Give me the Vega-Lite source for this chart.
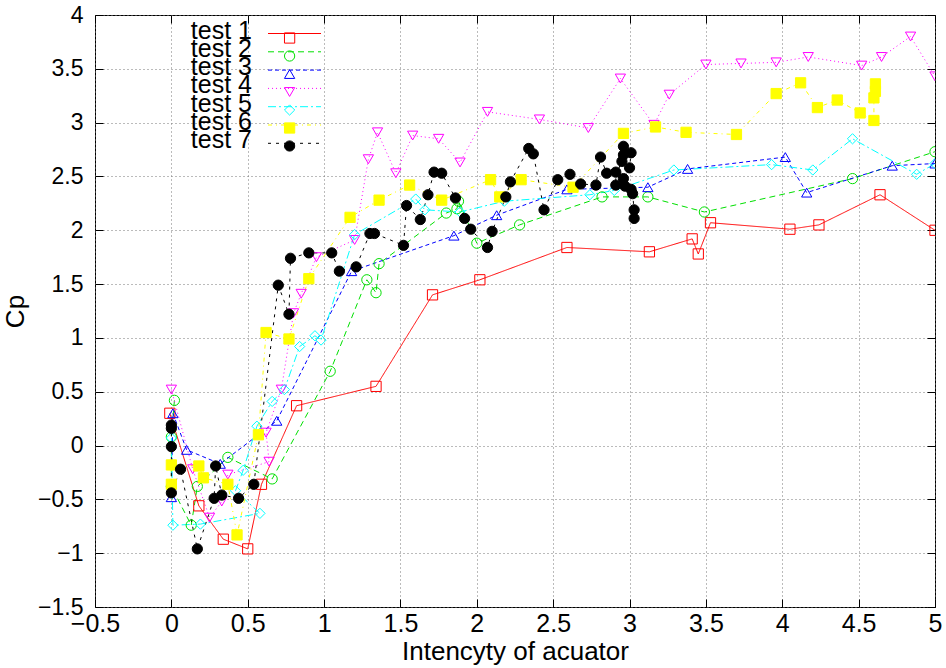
{
  "$schema": "https://vega.github.io/schema/vega-lite/v6.json",
  "autosize": "none",
  "width": 840,
  "height": 592,
  "padding": {"left": 95, "top": 15, "right": 11, "bottom": 61},
  "background": "white",
  "config": {
    "font": "Liberation Sans",
    "view": {"stroke": "black", "strokeWidth": 1}
  },
  "data": {"values": [
    {"s":"test 1","i":0,"x":-0.01,"y":0.30},{"s":"test 1","i":1,"x":0.18,"y":-0.56},{"s":"test 1","i":2,"x":0.34,"y":-0.87},{"s":"test 1","i":3,"x":0.50,"y":-0.96},{"s":"test 1","i":4,"x":0.59,"y":-0.36},{"s":"test 1","i":5,"x":0.82,"y":0.37},{"s":"test 1","i":6,"x":1.34,"y":0.55},{"s":"test 1","i":7,"x":1.71,"y":1.40},{"s":"test 1","i":8,"x":2.02,"y":1.54},{"s":"test 1","i":9,"x":2.59,"y":1.84},{"s":"test 1","i":10,"x":3.13,"y":1.80},{"s":"test 1","i":11,"x":3.41,"y":1.92},{"s":"test 1","i":12,"x":3.45,"y":1.78},{"s":"test 1","i":13,"x":3.53,"y":2.07},{"s":"test 1","i":14,"x":4.05,"y":2.01},{"s":"test 1","i":15,"x":4.24,"y":2.05},{"s":"test 1","i":16,"x":4.64,"y":2.33},{"s":"test 1","i":17,"x":5.0,"y":2.0},
    {"s":"test 2","i":0,"x":0.02,"y":0.42},{"s":"test 2","i":1,"x":0.0,"y":0.08},{"s":"test 2","i":2,"x":0.0,"y":-0.38},{"s":"test 2","i":3,"x":0.13,"y":-0.74},{"s":"test 2","i":4,"x":0.17,"y":-0.38},{"s":"test 2","i":5,"x":0.37,"y":-0.11},{"s":"test 2","i":6,"x":0.66,"y":-0.31},{"s":"test 2","i":7,"x":1.04,"y":0.69},{"s":"test 2","i":8,"x":1.28,"y":1.54},{"s":"test 2","i":9,"x":1.34,"y":1.42},{"s":"test 2","i":10,"x":1.36,"y":1.69},{"s":"test 2","i":11,"x":1.80,"y":2.16},{"s":"test 2","i":12,"x":1.87,"y":2.20},{"s":"test 2","i":13,"x":1.88,"y":2.27},{"s":"test 2","i":14,"x":2.0,"y":1.88},{"s":"test 2","i":15,"x":2.28,"y":2.05},{"s":"test 2","i":16,"x":2.82,"y":2.31},{"s":"test 2","i":17,"x":3.12,"y":2.31},{"s":"test 2","i":18,"x":3.49,"y":2.17},{"s":"test 2","i":19,"x":4.46,"y":2.48},{"s":"test 2","i":20,"x":5.0,"y":2.73},
    {"s":"test 3","i":0,"x":0.0,"y":-0.48},{"s":"test 3","i":1,"x":0.01,"y":0.30},{"s":"test 3","i":2,"x":0.10,"y":-0.04},{"s":"test 3","i":3,"x":0.32,"y":-0.17},{"s":"test 3","i":4,"x":0.69,"y":0.23},{"s":"test 3","i":5,"x":1.18,"y":1.62},{"s":"test 3","i":6,"x":1.85,"y":1.95},{"s":"test 3","i":7,"x":2.13,"y":2.14},{"s":"test 3","i":8,"x":2.59,"y":2.38},{"s":"test 3","i":9,"x":3.12,"y":2.40},{"s":"test 3","i":10,"x":3.38,"y":2.57},{"s":"test 3","i":11,"x":4.02,"y":2.68},{"s":"test 3","i":12,"x":4.16,"y":2.35},{"s":"test 3","i":13,"x":4.72,"y":2.60},{"s":"test 3","i":14,"x":5.0,"y":2.62},
    {"s":"test 4","i":0,"x":0.0,"y":0.52},{"s":"test 4","i":1,"x":0.14,"y":-0.22},{"s":"test 4","i":2,"x":0.25,"y":-0.67},{"s":"test 4","i":3,"x":0.33,"y":-0.52},{"s":"test 4","i":4,"x":0.37,"y":-0.27},{"s":"test 4","i":5,"x":0.64,"y":-0.15},{"s":"test 4","i":6,"x":0.62,"y":0.12},{"s":"test 4","i":7,"x":0.72,"y":0.52},{"s":"test 4","i":8,"x":0.80,"y":1.23},{"s":"test 4","i":9,"x":0.85,"y":1.41},{"s":"test 4","i":10,"x":0.95,"y":1.75},{"s":"test 4","i":11,"x":1.20,"y":1.91},{"s":"test 4","i":12,"x":1.29,"y":2.66},{"s":"test 4","i":13,"x":1.35,"y":2.91},{"s":"test 4","i":14,"x":1.47,"y":2.53},{"s":"test 4","i":15,"x":1.58,"y":2.88},{"s":"test 4","i":16,"x":1.75,"y":2.85},{"s":"test 4","i":17,"x":1.89,"y":2.63},{"s":"test 4","i":18,"x":2.07,"y":3.10},{"s":"test 4","i":19,"x":2.41,"y":3.03},{"s":"test 4","i":20,"x":2.73,"y":2.95},{"s":"test 4","i":21,"x":2.94,"y":3.41},{"s":"test 4","i":22,"x":3.16,"y":2.98},{"s":"test 4","i":23,"x":3.26,"y":3.26},{"s":"test 4","i":24,"x":3.50,"y":3.54},{"s":"test 4","i":25,"x":3.73,"y":3.55},{"s":"test 4","i":26,"x":3.96,"y":3.56},{"s":"test 4","i":27,"x":4.17,"y":3.61},{"s":"test 4","i":28,"x":4.52,"y":3.53},{"s":"test 4","i":29,"x":4.65,"y":3.61},{"s":"test 4","i":30,"x":4.84,"y":3.80},{"s":"test 4","i":31,"x":5.0,"y":3.43},
    {"s":"test 5","i":0,"x":0.0,"y":0.07},{"s":"test 5","i":1,"x":0.01,"y":-0.74},{"s":"test 5","i":2,"x":0.19,"y":-0.73},{"s":"test 5","i":3,"x":0.58,"y":-0.63},{"s":"test 5","i":4,"x":0.42,"y":-0.42},{"s":"test 5","i":5,"x":0.47,"y":-0.23},{"s":"test 5","i":6,"x":0.56,"y":0.18},{"s":"test 5","i":7,"x":0.66,"y":0.41},{"s":"test 5","i":8,"x":0.74,"y":0.52},{"s":"test 5","i":9,"x":0.84,"y":0.92},{"s":"test 5","i":10,"x":0.94,"y":1.02},{"s":"test 5","i":11,"x":0.98,"y":0.98},{"s":"test 5","i":12,"x":1.20,"y":1.96},{"s":"test 5","i":13,"x":1.60,"y":2.29},{"s":"test 5","i":14,"x":1.66,"y":2.19},{"s":"test 5","i":15,"x":1.89,"y":2.17},{"s":"test 5","i":16,"x":2.18,"y":2.27},{"s":"test 5","i":17,"x":2.74,"y":2.33},{"s":"test 5","i":18,"x":2.90,"y":2.37},{"s":"test 5","i":19,"x":3.29,"y":2.56},{"s":"test 5","i":20,"x":3.93,"y":2.61},{"s":"test 5","i":21,"x":4.20,"y":2.56},{"s":"test 5","i":22,"x":4.46,"y":2.85},{"s":"test 5","i":23,"x":4.88,"y":2.52},{"s":"test 5","i":24,"x":5.0,"y":2.62},
    {"s":"test 6","i":0,"x":0.0,"y":-0.36},{"s":"test 6","i":1,"x":0.0,"y":-0.18},{"s":"test 6","i":2,"x":0.18,"y":-0.19},{"s":"test 6","i":3,"x":0.21,"y":-0.30},{"s":"test 6","i":4,"x":0.37,"y":-0.36},{"s":"test 6","i":5,"x":0.43,"y":-0.83},{"s":"test 6","i":6,"x":0.57,"y":0.10},{"s":"test 6","i":7,"x":0.62,"y":1.05},{"s":"test 6","i":8,"x":0.77,"y":0.99},{"s":"test 6","i":9,"x":0.90,"y":1.55},{"s":"test 6","i":10,"x":1.17,"y":2.12},{"s":"test 6","i":11,"x":1.36,"y":2.28},{"s":"test 6","i":12,"x":1.56,"y":2.42},{"s":"test 6","i":13,"x":1.77,"y":2.28},{"s":"test 6","i":14,"x":2.09,"y":2.47},{"s":"test 6","i":15,"x":2.15,"y":2.31},{"s":"test 6","i":16,"x":2.29,"y":2.47},{"s":"test 6","i":17,"x":2.63,"y":2.40},{"s":"test 6","i":18,"x":2.96,"y":2.90},{"s":"test 6","i":19,"x":3.17,"y":2.96},{"s":"test 6","i":20,"x":3.37,"y":2.91},{"s":"test 6","i":21,"x":3.70,"y":2.89},{"s":"test 6","i":22,"x":3.96,"y":3.27},{"s":"test 6","i":23,"x":4.12,"y":3.37},{"s":"test 6","i":24,"x":4.23,"y":3.14},{"s":"test 6","i":25,"x":4.36,"y":3.21},{"s":"test 6","i":26,"x":4.51,"y":3.09},{"s":"test 6","i":27,"x":4.60,"y":3.02},{"s":"test 6","i":28,"x":4.60,"y":3.23},{"s":"test 6","i":29,"x":4.61,"y":3.29},{"s":"test 6","i":30,"x":4.61,"y":3.36},
    {"s":"test 7","i":0,"x":0.0,"y":0.19},{"s":"test 7","i":1,"x":0.0,"y":0.16},{"s":"test 7","i":2,"x":0.0,"y":-0.01},{"s":"test 7","i":3,"x":0.0,"y":-0.44},{"s":"test 7","i":4,"x":0.06,"y":-0.22},{"s":"test 7","i":5,"x":0.17,"y":-0.96},{"s":"test 7","i":6,"x":0.28,"y":-0.49},{"s":"test 7","i":7,"x":0.29,"y":-0.19},{"s":"test 7","i":8,"x":0.33,"y":-0.46},{"s":"test 7","i":9,"x":0.44,"y":-0.49},{"s":"test 7","i":10,"x":0.54,"y":-0.36},{"s":"test 7","i":11,"x":0.70,"y":1.49},{"s":"test 7","i":12,"x":0.77,"y":1.22},{"s":"test 7","i":13,"x":0.78,"y":1.74},{"s":"test 7","i":14,"x":0.90,"y":1.79},{"s":"test 7","i":15,"x":1.05,"y":1.79},{"s":"test 7","i":16,"x":1.10,"y":1.62},{"s":"test 7","i":17,"x":1.21,"y":1.66},{"s":"test 7","i":18,"x":1.30,"y":1.97},{"s":"test 7","i":19,"x":1.33,"y":1.97},{"s":"test 7","i":20,"x":1.52,"y":1.86},{"s":"test 7","i":21,"x":1.54,"y":2.23},{"s":"test 7","i":22,"x":1.63,"y":2.10},{"s":"test 7","i":23,"x":1.68,"y":2.33},{"s":"test 7","i":24,"x":1.72,"y":2.54},{"s":"test 7","i":25,"x":1.77,"y":2.53},{"s":"test 7","i":26,"x":1.86,"y":2.30},{"s":"test 7","i":27,"x":1.92,"y":2.11},{"s":"test 7","i":28,"x":1.96,"y":2.01},{"s":"test 7","i":29,"x":2.07,"y":1.84},{"s":"test 7","i":30,"x":2.10,"y":1.99},{"s":"test 7","i":31,"x":2.19,"y":2.31},{"s":"test 7","i":32,"x":2.22,"y":2.45},{"s":"test 7","i":33,"x":2.34,"y":2.76},{"s":"test 7","i":34,"x":2.37,"y":2.71},{"s":"test 7","i":35,"x":2.44,"y":2.19},{"s":"test 7","i":36,"x":2.53,"y":2.47},{"s":"test 7","i":37,"x":2.61,"y":2.52},{"s":"test 7","i":38,"x":2.68,"y":2.43},{"s":"test 7","i":39,"x":2.78,"y":2.42},{"s":"test 7","i":40,"x":2.81,"y":2.68},{"s":"test 7","i":41,"x":2.85,"y":2.53},{"s":"test 7","i":42,"x":2.91,"y":2.54},{"s":"test 7","i":43,"x":2.91,"y":2.42},{"s":"test 7","i":44,"x":2.96,"y":2.78},{"s":"test 7","i":45,"x":2.96,"y":2.70},{"s":"test 7","i":46,"x":2.95,"y":2.64},{"s":"test 7","i":47,"x":3.01,"y":2.72},{"s":"test 7","i":48,"x":3.00,"y":2.58},{"s":"test 7","i":49,"x":2.96,"y":2.48},{"s":"test 7","i":50,"x":2.97,"y":2.41},{"s":"test 7","i":51,"x":3.01,"y":2.38},{"s":"test 7","i":52,"x":3.02,"y":2.34},{"s":"test 7","i":53,"x":3.03,"y":2.19},{"s":"test 7","i":54,"x":3.03,"y":2.11}
  ]},
  "resolve": {"axis": {"x": "independent", "y": "independent"}},
  "layer": [
    {
      "mark": {"type": "line", "strokeWidth": 1, "clip": true},
      "encoding": {
        "x": {"field": "x", "type": "quantitative", "scale": {"domain": [-0.5, 5], "nice": false, "zero": false},
          "axis": {"orient": "bottom", "values": [-0.5,0,0.5,1,1.5,2,2.5,3,3.5,4,4.5,5], "format": "~g",
            "labelFont": "Liberation Sans", "labelFontSize": 25, "labelColor": "black", "labelPadding": 12, "labelFlush": false, "labelOverlap": false,
            "tickSize": -8, "tickColor": "black", "domain": false,
            "grid": true, "gridDash": [1, 3], "gridColor": "#777777",
            "title": "Intencyty of acuator", "titleFont": "Liberation Sans", "titleFontSize": 26, "titleFontWeight": "normal", "titleColor": "black", "titlePadding": 2}},
        "y": {"field": "y", "type": "quantitative", "scale": {"domain": [-1.5, 4], "nice": false, "zero": false},
          "axis": {"orient": "left", "values": [-1.5,-1,-0.5,0,0.5,1,1.5,2,2.5,3,3.5,4], "format": "~g",
            "labelFont": "Liberation Sans", "labelFontSize": 23, "labelColor": "black", "labelPadding": 20, "labelFlush": false, "labelOverlap": false,
            "tickSize": -8, "tickColor": "black", "domain": false,
            "grid": true, "gridDash": [1, 3], "gridColor": "#777777",
            "title": "Cp", "titleFont": "Liberation Sans", "titleFontSize": 26, "titleFontWeight": "normal", "titleColor": "black", "titlePadding": 9}},
        "color": {"field": "s", "type": "nominal",
          "scale": {"domain": ["test 1","test 2","test 3","test 4","test 5","test 6","test 7"], "range": ["#ff0000","#00e000","#0000ff","#ff00ff","#00ffff","#ffff00","#000000"]},
          "legend": {"orient": "none", "legendX": 161, "legendY": 6, "title": null, "padding": 0,
            "symbolType": "M-5.3,0H5.3", "symbolSize": 100, "symbolStrokeWidth": 1, "symbolFillColor": "transparent", "symbolOffset": 26,
            "labelFont": "Liberation Sans", "labelFontSize": 25, "labelColor": "black", "labelAlign": "right", "labelOffset": -55, "labelLimit": 300, "rowPadding": 0.3,
            "labelExpr": "[datum.label, '']",
            "encode": {"labels": {"update": {"lineHeight": {"value": -9.6}, "dy": {"value": -3}}}}}},
        "strokeDash": {"field": "s", "type": "nominal",
          "scale": {"domain": ["test 1","test 2","test 3","test 4","test 5","test 6","test 7"], "range": [[1,0],[6,4],[4,3],[1,3],[8,3,2,3],[4,4,1,4],[3,5]]},
          "legend": {"orient": "none", "legendX": 161, "legendY": 6, "title": null, "padding": 0,
            "symbolType": "M-5.3,0H5.3", "symbolSize": 100, "symbolStrokeWidth": 1, "symbolFillColor": "transparent", "symbolOffset": 26,
            "labelFont": "Liberation Sans", "labelFontSize": 25, "labelColor": "black", "labelAlign": "right", "labelOffset": -55, "labelLimit": 300, "rowPadding": 0.3,
            "labelExpr": "[datum.label, '']",
            "encode": {"labels": {"update": {"lineHeight": {"value": -9.6}, "dy": {"value": -3}}}}}},
        "order": {"field": "i", "type": "quantitative"}
      }
    },
    {
      "mark": {"type": "point", "filled": false, "strokeWidth": 1, "size": 105, "opacity": 1, "clip": true},
      "encoding": {
        "x": {"field": "x", "type": "quantitative",
          "axis": {"orient": "top", "values": [-0.5,0,0.5,1,1.5,2,2.5,3,3.5,4,4.5,5], "labels": false, "tickSize": -8, "tickColor": "black", "domain": false, "grid": false, "title": null}},
        "y": {"field": "y", "type": "quantitative",
          "axis": {"orient": "right", "values": [-1.5,-1,-0.5,0,0.5,1,1.5,2,2.5,3,3.5,4], "labels": false, "tickSize": -8, "tickColor": "black", "domain": false, "grid": false, "title": null}},
        "stroke": {"field": "s", "type": "nominal",
          "scale": {"range": ["#ff0000","#00e000","#0000ff","#ff00ff","#00ffff","#ffff00","#000000"]},
          "legend": {"orient": "top-left", "offset": 15.4, "title": null, "padding": 0,
            "symbolSize": 105, "symbolStrokeWidth": 1, "symbolOffset": 171.6,
            "labelFont": "Liberation Sans", "labelFontSize": 16, "labelOpacity": 0, "labelAlign": "right", "labelOffset": -50, "labelLimit": 300, "rowPadding": 2}},
        "fill": {"field": "s", "type": "nominal",
          "scale": {"range": ["transparent","transparent","transparent","transparent","transparent","#ffff00","#000000"]},
          "legend": {"orient": "top-left", "offset": 15.4, "title": null, "padding": 0,
            "symbolSize": 105, "symbolStrokeWidth": 1, "symbolOffset": 171.6,
            "labelFont": "Liberation Sans", "labelFontSize": 16, "labelOpacity": 0, "labelAlign": "right", "labelOffset": -50, "labelLimit": 300, "rowPadding": 2}},
        "shape": {"field": "s", "type": "nominal",
          "scale": {"range": ["square","circle","triangle-up","triangle-down","diamond","square","circle"]},
          "legend": {"orient": "top-left", "offset": 15.4, "title": null, "padding": 0,
            "symbolSize": 105, "symbolStrokeWidth": 1, "symbolOffset": 171.6,
            "labelFont": "Liberation Sans", "labelFontSize": 16, "labelOpacity": 0, "labelAlign": "right", "labelOffset": -50, "labelLimit": 300, "rowPadding": 2}}
      }
    }
  ]
}
